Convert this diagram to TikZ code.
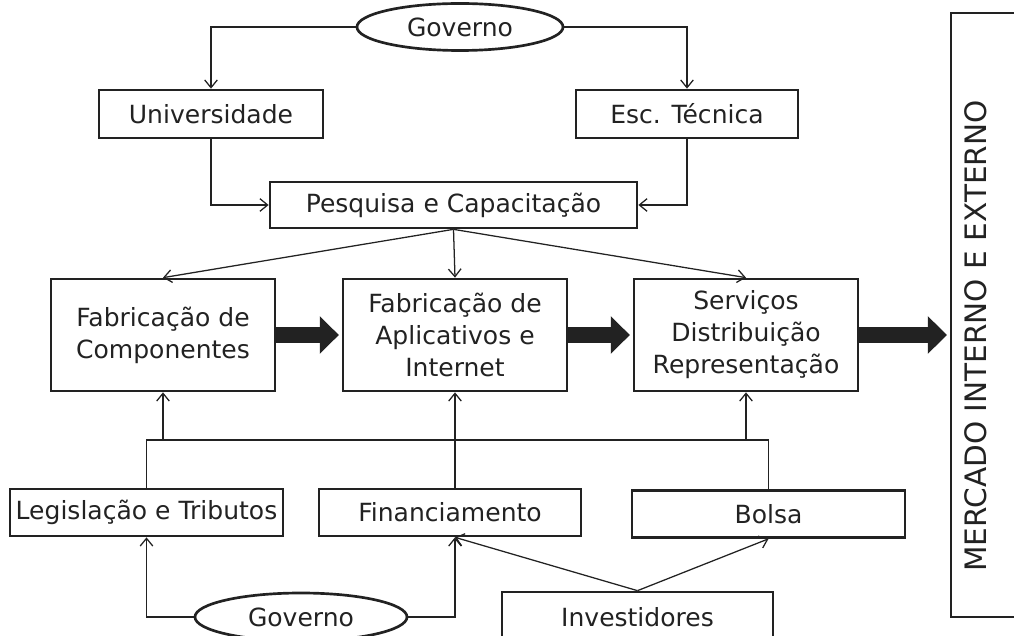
\documentclass[tikz,border=0pt]{standalone}
\usepackage{fontspec}
\setmainfont{DejaVu Sans}
\usetikzlibrary{arrows.meta,shapes.geometric}
\definecolor{ink}{HTML}{222222}

\begin{document}
\begin{tikzpicture}[
        x=0.025cm, y=-0.025cm,
        font=\fontsize{17.8}{22.8}\selectfont,
        box/.style={rectangle, draw=ink, text=ink, line width=1.9pt, align=center, minimum width=5.6cm, minimum height=1.2cm, inner sep=0pt},
        oval/.style={ellipse, draw=ink, text=ink, line width=1.9pt, minimum width=5.15cm, minimum height=1.175cm, inner sep=0pt},
        conn/.style={-{Straight Barb[length=5.5pt,width=9pt]}, draw=ink, line width=0.9pt},
        bus/.style={draw=ink, line width=0.9pt},
        bigarrow/.style={-{Triangle[length=13.5pt,width=26pt]}, draw=ink, line width=12pt, shorten >=2pt}
    ]
        \clip (0,0) rectangle (1014,636);

        % Governo, Universidade, Esc. Tecnica
        \node[oval] (govtop) at (460,27) {Governo};
        \node[box] (univ) at (211,114) {Universidade};
        \node[box, minimum width=5.55cm] (esc) at (687,114) {Esc. Técnica};
        \node[box, minimum width=9.175cm, minimum height=1.15cm] (pesq) at (453.5,205) {Pesquisa e Capacitação};

        % Fabricacao e servicos
        \node[box, minimum height=2.8cm] (fabcomp) at (163,335) {Fabricação de\\Componentes};
        \node[box, minimum height=2.8cm] (fabapl) at (455,335) {Fabricação de\\Aplicativos e\\Internet};
        \node[box, minimum height=2.8cm] (serv) at (746,335) {Serviços\\Distribuição\\Representação};

        % Mercado
        \node[box, minimum width=2cm, minimum height=15.1cm] (merc) at (991,315) {};
        \node[text=ink, rotate=90, font=\fontsize{21}{25}\selectfont] (merctxt) at (976,336) {MERCADO INTERNO E EXTERNO};

        % Base
        \node[box, minimum width=6.825cm, minimum height=1.175cm] (legis) at (146.5,512.5) {Legislação e Tributos};
        \node[box, minimum width=6.55cm, minimum height=1.175cm] (fin) at (450,512.5) {Financiamento};
        \node[box, minimum width=6.825cm, minimum height=1.175cm] (bolsa) at (768.5,514) {Bolsa};
        \node[box, minimum width=6.775cm, minimum height=1.25cm] (invest) at (637.5,617) {Investidores};
        \node[oval, minimum width=5.3cm, minimum height=1.2cm] (govbot) at (301,617) {Governo};

        \coordinate (busL) at (163,440);
        \coordinate (busR) at (746,440);

        % Arrows top
        \draw[conn] (govtop.west) -| (univ.north);
        \draw[conn] (govtop.east) -| (esc.north);
        \draw[conn] (univ.south) |- (pesq.west);
        \draw[conn] (esc.south) |- (pesq.east);
        \draw[conn] (pesq.south) -- (fabcomp.north);
        \draw[conn] (pesq.south) -- (fabapl.north);
        \draw[conn] (pesq.south) -- (serv.north);

        % Thick arrows
        \draw[bigarrow] (fabcomp.east) -- (fabapl.west);
        \draw[bigarrow] (fabapl.east) -- (serv.west);
        \draw[bigarrow] (serv.east) -- (serv.east -| merc.west);

        % Arrows bottom
        \draw[conn] (legis.north) |- (busL) -- (fabcomp.south);
        \draw[conn] (fabapl.south |- fin.north) -- (fabapl.south);
        \draw[conn] (bolsa.north) |- (busR) -- (serv.south);
        \draw[bus] (busL) -- (busR);
        \draw[conn] (govbot.west) -| (legis.south);
        \draw[conn] (govbot.east) -| (fabapl.south |- fin.south);
        \draw[conn] (invest.north) -- (fabapl.south |- fin.south);
        \draw[conn] (invest.north) -- (bolsa.south);

    \end{tikzpicture}
\end{document}
